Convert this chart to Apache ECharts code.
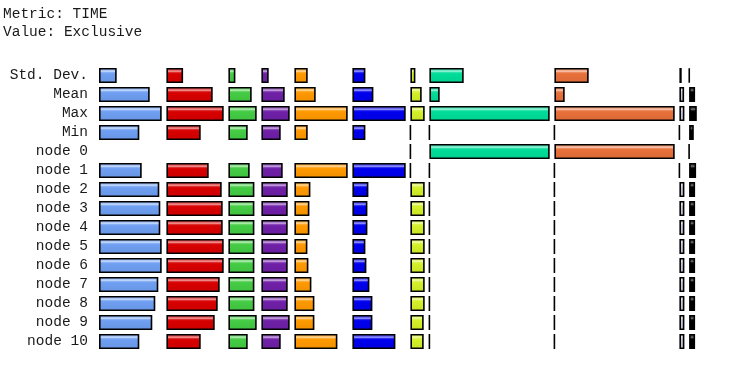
<!DOCTYPE html>
<html>
<head>
<meta charset="utf-8">
<script src="https://cdn.jsdelivr.net/npm/echarts@6/dist/echarts.min.js"></script>
<style>html,body{margin:0;padding:0;background:#fff}#c{width:729px;height:372px}</style>
</head>
<body>
<div id="c"></div>
<script>
// Row labels
var rows = ['Std. Dev.', 'Mean', 'Max', 'Min', 'node 0', 'node 1', 'node 2', 'node 3', 'node 4', 'node 5', 'node 6', 'node 7', 'node 8', 'node 9', 'node 10'];
// Exclusive time per function (null = function not called on that node)
var f1  = [17.7, 50.7, 62.7, 40.3, null, 42.7, 60.3, 61.3, 61.3, 62.7, 62.7, 59.3, 56.3, 53.3, 40.3];
var f2  = [16.7, 46.3, 57.3, 34.3, null, 42.3, 55.3, 56.3, 56.3, 57.3, 57.3, 53.3, 51.3, 48.3, 34.3];
var f3  = [7, 23.3, 28.3, 19.3, null, 21.3, 26, 26, 26, 26, 26, 26, 26, 28.3, 19.3];
var f4  = [7.3, 23.3, 28.3, 19.3, null, 21.3, 26.3, 26.3, 26.3, 26.3, 26.3, 26.3, 26.3, 28.3, 19.3];
var f5  = [13.3, 21.3, 53.3, 13.3, null, 53.3, 16, 15, 15, 13, 14, 17, 20, 20, 43];
var f6  = [13, 21, 53.3, 13, null, 53.3, 16, 15, 15, 13, 14, 17, 20, 20, 43];
var f7  = [5, 11.3, 14.3, 0, 0, 0, 14.3, 14.3, 14.3, 14.3, 14.3, 14.3, 14.3, 13.3, 13.3];
var f8  = [34.3, 10.3, 120.3, 0, 120.3, 0, 0, 0, 0, 0, 0, 0, 0, 0, 0];
var f9  = [34.3, 10.3, 120.3, 0, 120.3, 0, 0, 0, 0, 0, 0, 0, 0, 0, 0];
var f10 = [2.3, 4.7, 5, 0, null, 0, 5, 5, 5, 5, 5, 5, 5, 5, 5];
var f11 = [0.3, 6, 7.7, 4.7, 0, 7, 6, 6, 6, 6, 6, 6, 6, 6, 6];
var funcs = [f1, f2, f3, f4, f5, f6, f7, f8, f9, f10, f11];
var colors = ['#6f9ff2', '#d80000', '#44cc44', '#7020a8', '#ff9900', '#0000ee', '#d4f028', '#00dd99', '#e8703a', '#cacadc', '#000000'];

function mix(hex, target, t) {
  var c = parseInt(hex.slice(1), 16);
  var r = (c >> 16) & 255, g = (c >> 8) & 255, b = c & 255;
  r = Math.round(r + (target - r) * t); g = Math.round(g + (target - g) * t); b = Math.round(b + (target - b) * t);
  return 'rgb(' + r + ',' + g + ',' + b + ')';
}
function grad(hex) {
  var hi = hex === '#000000' ? 0.45 : 0.6;
  return new echarts.graphic.LinearGradient(0, 0, 0, 1, [
    {offset: 0, color: mix(hex, 255, hi * 0.45)},
    {offset: 0.14, color: mix(hex, 255, hi * 0.55)},
    {offset: 0.22, color: mix(hex, 255, hi)},
    {offset: 0.3, color: mix(hex, 255, hi * 0.3)},
    {offset: 0.38, color: hex},
    {offset: 1, color: mix(hex, 0, 0.06)}
  ]);
}

var chart = echarts.init(document.getElementById('c'), null, {renderer: 'canvas'});
var FONT = '"Liberation Mono", "DejaVu Sans Mono", monospace';
var grids = [], xAxes = [], yAxes = [], series = [];
var left = 99, gap = 4.7;
funcs.forEach(function (d, i) {
  var mx = d[2];
  grids.push({left: left, width: mx, top: 66, height: 285});
  left += mx + gap;
  xAxes.push({type: 'value', gridIndex: i, min: 0, max: mx, show: false});
  yAxes.push({
    type: 'category', gridIndex: i, data: rows, inverse: true,
    show: i === 0,
    axisLine: {show: false}, axisTick: {show: false}, splitLine: {show: false},
    axisLabel: {show: i === 0, interval: 0, margin: 11, color: '#1a1a1a', fontFamily: FONT, fontSize: 14.5}
  });
  series.push({
    type: 'bar', xAxisIndex: i, yAxisIndex: i, barWidth: 15,
    data: d.map(function (v) { return v === null ? '-' : v; }),
    itemStyle: {color: grad(colors[i]), borderColor: '#000', borderWidth: 1.6},
    emphasis: {disabled: true}, animation: false, silent: true
  });
});

chart.setOption({
  animation: false,
  backgroundColor: '#fff',
  title: {
    text: 'Metric: TIME\nValue: Exclusive', left: 3, top: 5, padding: 0,
    textStyle: {fontFamily: FONT, fontSize: 14.5, fontWeight: 'normal', color: '#1a1a1a', lineHeight: 18}
  },
  grid: grids, xAxis: xAxes, yAxis: yAxes, series: series
});
</script>
</body>
</html>
